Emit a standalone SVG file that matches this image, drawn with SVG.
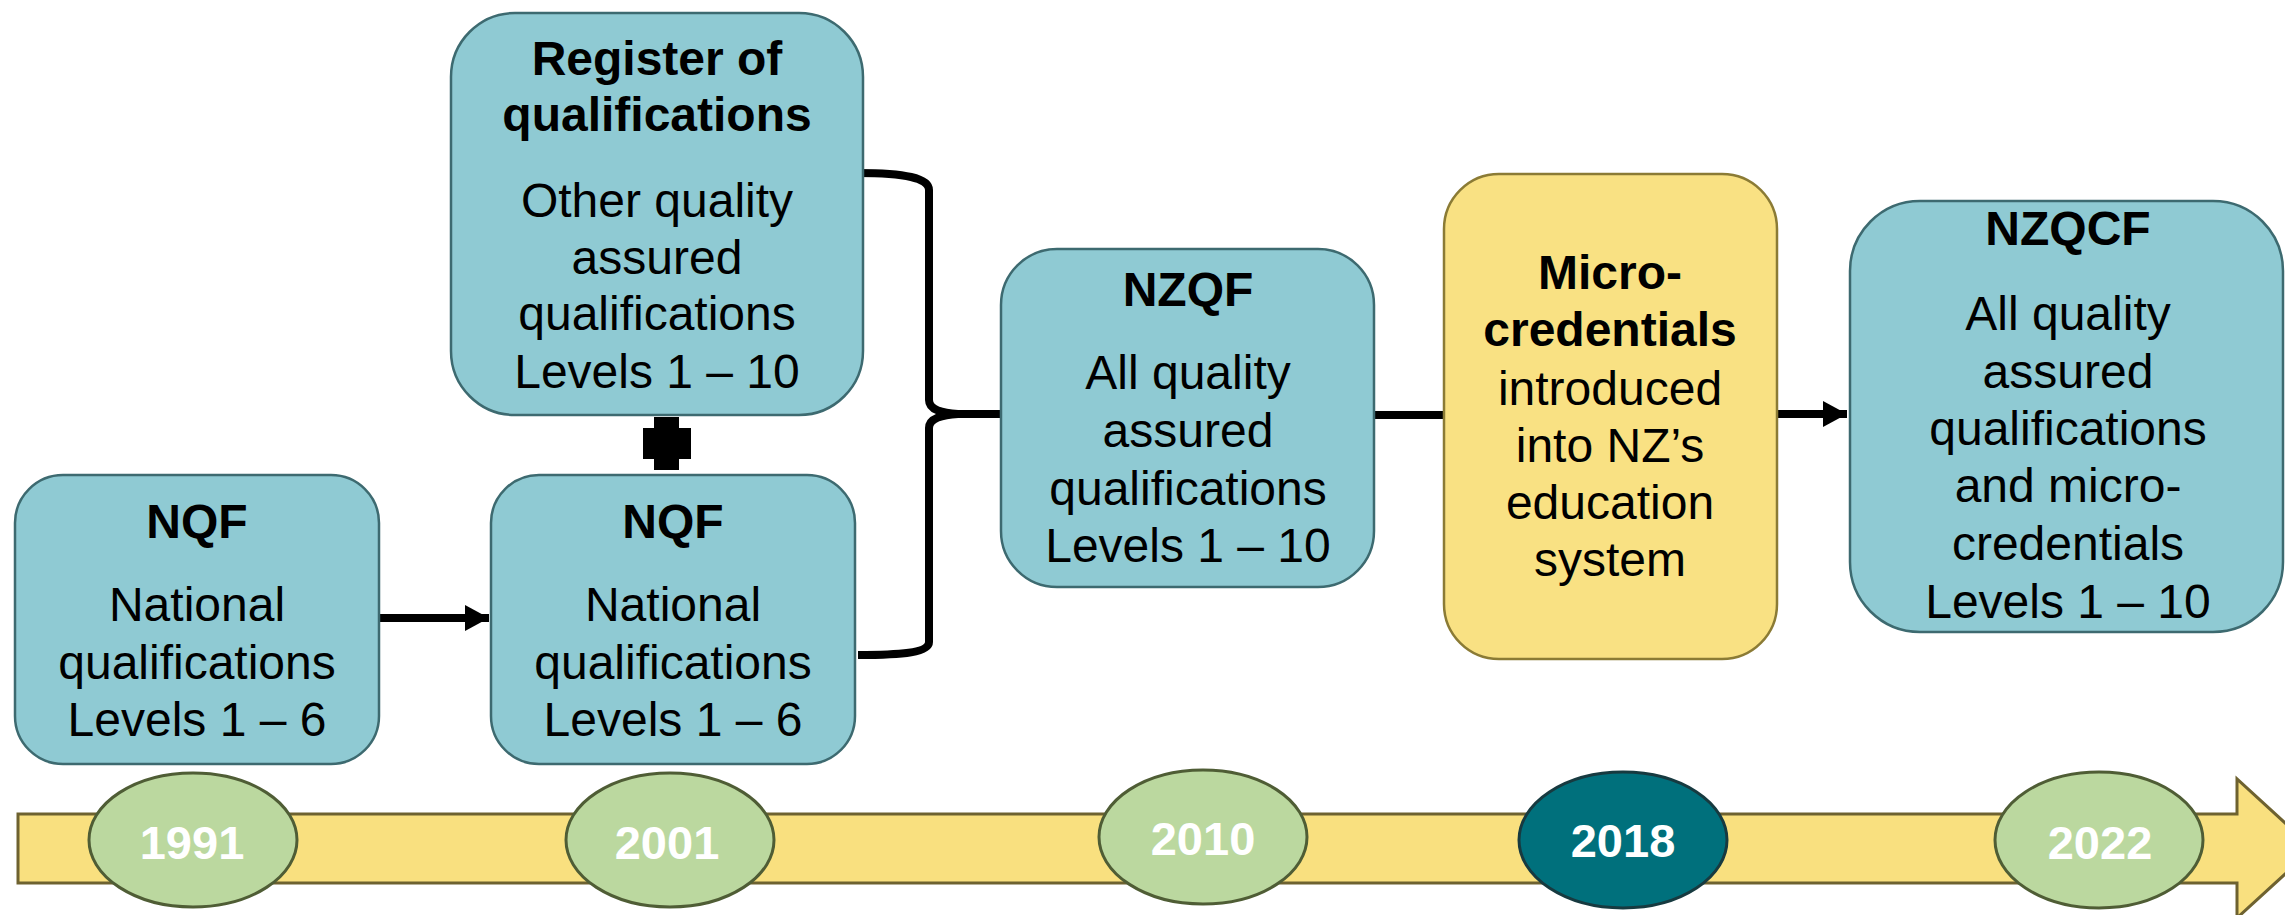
<svg xmlns="http://www.w3.org/2000/svg" width="2285" height="915" viewBox="0 0 2285 915">
<style>
.box{fill:#8FCAD3;stroke:#3D6A70;stroke-width:2.5}
.ybox{fill:#F9E183;stroke:#8B7B35;stroke-width:2.5}
.t{font-family:"Liberation Sans",Arial,sans-serif;font-size:48px;fill:#000;text-anchor:middle}
.b{font-weight:bold}
.yr{font-family:"Liberation Sans",Arial,sans-serif;font-size:47px;font-weight:bold;fill:#fff;text-anchor:middle}
.ell{fill:#BBD89F;stroke:#4F5D35;stroke-width:3}
.ell2{fill:#00707C;stroke:#173A40;stroke-width:3}
.ln{fill:none;stroke:#000;stroke-width:8}
</style>
<defs>
<marker id="ah" markerUnits="userSpaceOnUse" markerWidth="24" markerHeight="26" refX="24" refY="13" orient="auto">
<path d="M0,0 L24,13 L0,26 Z" fill="#000"/>
</marker>
</defs>
<g id="timeline">
<path d="M18,814 H2237 V779 L2313,848.5 L2237,918 V883 H18 Z" fill="#F9E07F" stroke="#6E6230" stroke-width="3"/>
</g>
<g id="y1991"><ellipse class="ell" cx="193" cy="840" rx="104" ry="67"/><text class="yr" x="192" y="859">1991</text></g>
<g id="y2001"><ellipse class="ell" cx="670" cy="840" rx="104" ry="67"/><text class="yr" x="667" y="859">2001</text></g>
<g id="y2010"><ellipse class="ell" cx="1203" cy="837" rx="104" ry="67"/><text class="yr" x="1203" y="855">2010</text></g>
<g id="y2018"><ellipse class="ell2" cx="1623" cy="840" rx="104" ry="68"/><text class="yr" x="1623" y="857">2018</text></g>
<g id="y2022"><ellipse class="ell" cx="2099" cy="840" rx="104" ry="68"/><text class="yr" x="2100" y="859">2022</text></g>
<g id="connectors">
<line class="ln" x1="379" y1="618" x2="489" y2="618" marker-end="url(#ah)"/>
<path class="ln" stroke-width="7" d="M858,173 C905,173 929,178 929,190 V400 C929,410 942,413 958,414 C942,415 929,418 929,428 V642 C929,652 905,655 858,655"/>
<line class="ln" x1="955" y1="414" x2="1002" y2="414"/>
<line class="ln" x1="1374" y1="415" x2="1444" y2="415"/>
<line class="ln" x1="1777" y1="414" x2="1847" y2="414" marker-end="url(#ah)"/>
<path d="M654,417 H679 V428 H691 V459 H679 V470 H654 V459 H643 V428 H654 Z" fill="#000"/>
</g>
<g id="nqf1991">
<rect class="box" x="15" y="475" width="364" height="289" rx="48"/>
<text class="t b" x="197" y="538">NQF</text>
<text class="t" x="197" y="621">National</text>
<text class="t" x="197" y="679">qualifications</text>
<text class="t" x="197" y="736">Levels 1 – 6</text>
</g>
<g id="nqf2001">
<rect class="box" x="491" y="475" width="364" height="289" rx="48"/>
<text class="t b" x="673" y="538">NQF</text>
<text class="t" x="673" y="621">National</text>
<text class="t" x="673" y="679">qualifications</text>
<text class="t" x="673" y="736">Levels 1 – 6</text>
</g>
<g id="register">
<rect class="box" x="451" y="13" width="412" height="402" rx="64"/>
<text class="t b" x="657" y="75">Register of</text>
<text class="t b" x="657" y="131">qualifications</text>
<text class="t" x="657" y="217">Other quality</text>
<text class="t" x="657" y="274">assured</text>
<text class="t" x="657" y="330">qualifications</text>
<text class="t" x="657" y="388">Levels 1 – 10</text>
</g>
<g id="nzqf">
<rect class="box" x="1001" y="249" width="373" height="338" rx="56"/>
<text class="t b" x="1188" y="306">NZQF</text>
<text class="t" x="1188" y="389">All quality</text>
<text class="t" x="1188" y="447">assured</text>
<text class="t" x="1188" y="505">qualifications</text>
<text class="t" x="1188" y="562">Levels 1 – 10</text>
</g>
<g id="micro">
<rect class="ybox" x="1444" y="174" width="333" height="485" rx="55"/>
<text class="t b" x="1610" y="289">Micro-</text>
<text class="t b" x="1610" y="346">credentials</text>
<text class="t" x="1610" y="405">introduced</text>
<text class="t" x="1610" y="462">into NZ’s</text>
<text class="t" x="1610" y="519">education</text>
<text class="t" x="1610" y="576">system</text>
</g>
<g id="nzqcf">
<rect class="box" x="1850" y="201" width="433" height="431" rx="70"/>
<text class="t b" x="2068" y="245">NZQCF</text>
<text class="t" x="2068" y="330">All quality</text>
<text class="t" x="2068" y="388">assured</text>
<text class="t" x="2068" y="445">qualifications</text>
<text class="t" x="2068" y="502">and micro-</text>
<text class="t" x="2068" y="560">credentials</text>
<text class="t" x="2068" y="618">Levels 1 – 10</text>
</g>
</svg>
